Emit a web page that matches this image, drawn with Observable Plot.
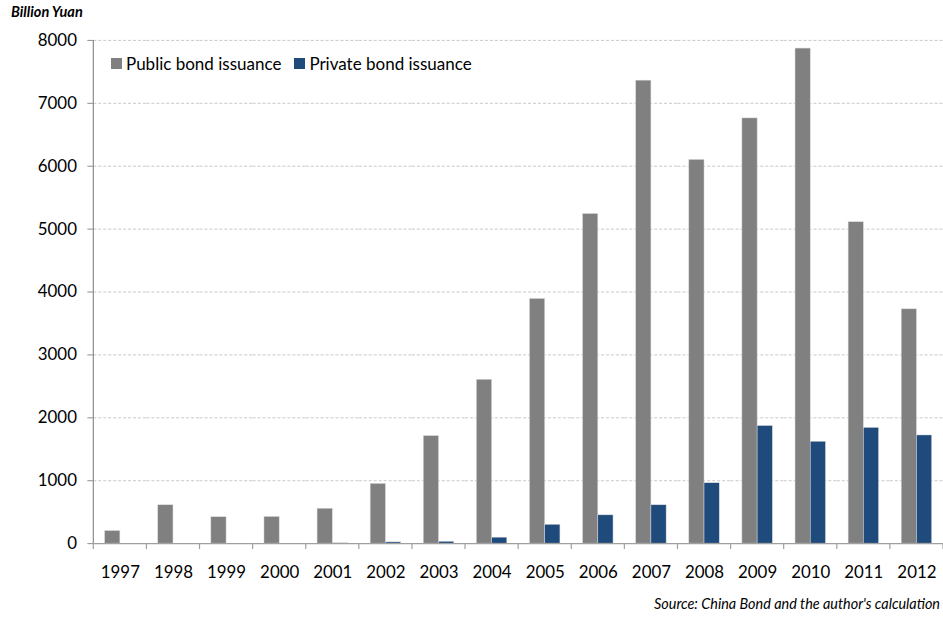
<!DOCTYPE html>
<html>
<head>
<meta charset="utf-8">
<script src="https://cdn.jsdelivr.net/npm/d3@7"></script>
<script src="https://cdn.jsdelivr.net/npm/@observablehq/plot@0.6"></script>
<style>
  html, body { margin: 0; padding: 0; background: #fff; overflow: hidden; }
  body { width: 943px; height: 617px; position: relative; font-family: Lato, "Open Sans", sans-serif; }
  #title { height: 26px; box-sizing: border-box; padding: 2px 0 0 11px; font: italic bold 14.5px Lato, sans-serif; line-height: 20px; color: #000; }
  #legend { position: absolute; left: 111px; top: 53px; display: flex; align-items: center; font-size: 17px; color: #000; }
  #legend .item { display: flex; align-items: center; margin-right: 13px; }
  #legend .sw { width: 11px; height: 11px; margin-right: 4px; }
  #caption { position: absolute; right: 3px; top: 595px; font: italic 14.4px Lato, sans-serif; color: #000; }
</style>
</head>
<body>
<div id="title">Billion Yuan</div>
<div id="chart"></div>
<div id="legend"></div>
<div id="caption">Source: China Bond and the author's calculation</div>
<script>
const years = ["1997","1998","1999","2000","2001","2002","2003","2004","2005","2006","2007","2008","2009","2010","2011","2012"];
const publicBond  = [200, 610, 420, 425, 555, 950, 1710, 2605, 3890, 5240, 7360, 6100, 6760, 7870, 5110, 3725];
const privateBond = [0, 0, 0, 0, 5, 20, 30, 95, 300, 450, 610, 960, 1870, 1620, 1840, 1720];
const seriesNames = ["Public bond issuance", "Private bond issuance"];
const seriesColors = ["#808080", "#1F4A7C"];
const yTicks = [0, 1000, 2000, 3000, 4000, 5000, 6000, 7000, 8000];

const data = [];
years.forEach((yr, i) => {
  data.push({year: yr, series: seriesNames[0], value: publicBond[i]});
  data.push({year: yr, series: seriesNames[1], value: privateBond[i]});
});

const W = 950, H = 565, ML = 94, MR = 0, MT = 14, MB = 44;

const plot = Plot.plot({
  width: W, height: H,
  marginLeft: ML, marginRight: MR, marginTop: MT, marginBottom: MB,
  style: {fontFamily: "Lato, 'Open Sans', sans-serif", fontSize: "17px", color: "#000", background: "#fff", overflow: "visible"},
  fx: {domain: years, padding: 0, round: false, label: null, axis: "bottom", tickSize: 0, tickPadding: 23},
  x: {domain: seriesNames, paddingInner: 0, paddingOuter: 0.745, round: false, axis: null},
  y: {domain: [0, 8000], axis: null},
  color: {domain: seriesNames, range: seriesColors},
  marks: [
    Plot.gridY(yTicks.filter(d => d > 0), {stroke: "#c8c8c8", strokeOpacity: 1, strokeDasharray: "3,2"}),
    Plot.barY(data, {fx: "year", x: "series", y: "value", fill: "series", stroke: "#d8d8d8", strokeWidth: 0.5}),
    Plot.ruleY([0], {stroke: "#a0a0a0", strokeWidth: 1.2}),
    Plot.axisY(yTicks, {anchor: "left", tickSize: 6, tickPadding: 11, stroke: "#8c8c8c", fill: "#000", label: null, tickFormat: d => String(d)})
  ]
});
document.getElementById("chart").appendChild(plot);

// frame decorations derived from the same scales
const svg = d3.select(plot);
const fx = d3.scaleBand(years, [ML, W - MR]).padding(0);
const y = d3.scaleLinear([0, 8000], [H - MB, MT]);
const bounds = years.map(d => fx(d)).concat([fx(years[years.length - 1]) + fx.bandwidth()]);
svg.append("g").selectAll("line").data(bounds).join("line")
  .attr("x1", d => d).attr("x2", d => d)
  .attr("y1", y(0)).attr("y2", y(0) + 6)
  .attr("stroke", "#a0a0a0").attr("stroke-width", 1.2);
svg.append("line")
  .attr("x1", ML).attr("x2", ML).attr("y1", y(8000)).attr("y2", y(0))
  .attr("stroke", "#8c8c8c").attr("stroke-width", 1.2);

// legend
const lg = d3.select("#legend");
seriesNames.forEach((s, i) => {
  const it = lg.append("div").attr("class", "item");
  it.append("div").attr("class", "sw").style("background", seriesColors[i]);
  it.append("span").text(s);
});
</script>
</body>
</html>
